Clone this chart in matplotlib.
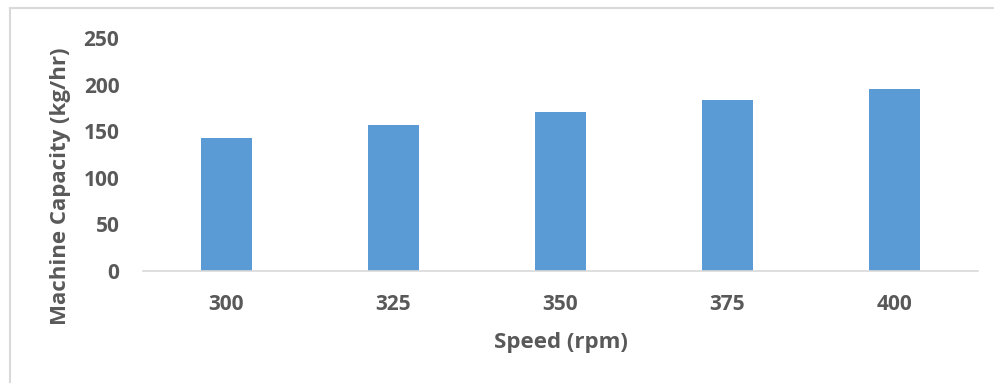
import matplotlib.pyplot as plt
from matplotlib.lines import Line2D

speeds = ['300', '325', '350', '375', '400']
capacity = [143, 156, 171, 183, 195]
y_ticks = [0, 50, 100, 150, 200, 250]

plt.rcParams['font.family'] = ['Open Sans', 'DejaVu Sans']
text_color = '#595959'

fig = plt.figure(figsize=(9.95, 3.83), dpi=100)
ax = fig.add_axes([143 / 995, 112.3 / 383, 835 / 995, 232.7 / 383])

ax.bar(range(len(speeds)), capacity, width=0.31, color='#5B9BD5')
ax.set_xlim(-0.5, len(speeds) - 0.5)
ax.set_ylim(0, 250)
ax.set_yticks(y_ticks)
ax.set_xticks(range(len(speeds)))
ax.set_xticklabels(speeds)

for s in ['top', 'right', 'left']:
    ax.spines[s].set_visible(False)
ax.spines['bottom'].set_color('#D9D9D9')
ax.spines['bottom'].set_linewidth(1.2)
ax.tick_params(length=0, labelsize=15, colors=text_color)
ax.tick_params(axis='x', pad=17)
ax.tick_params(axis='y', pad=17)
for lbl in ax.get_xticklabels() + ax.get_yticklabels():
    lbl.set_fontweight('bold')

ax.set_xlabel('Speed (rpm)', fontsize=16, fontweight='bold', color=text_color, labelpad=12)
ax.set_ylabel('Machine Capacity (kg/hr)', fontsize=16, fontweight='bold', color=text_color)
# label sits lower than the axes centre in the original
ax.yaxis.set_label_coords(-0.086, 0.364)

# chart area border (clipped by the image on right and bottom)
fig.add_artist(Line2D([10.5 / 995, 1.0], [1 - 8 / 383, 1 - 8 / 383], color='#D9D9D9', lw=1.5))
fig.add_artist(Line2D([10.5 / 995, 10.5 / 995], [0, 1 - 8 / 383], color='#D9D9D9', lw=1.5))

plt.savefig('out.png', dpi=100)
